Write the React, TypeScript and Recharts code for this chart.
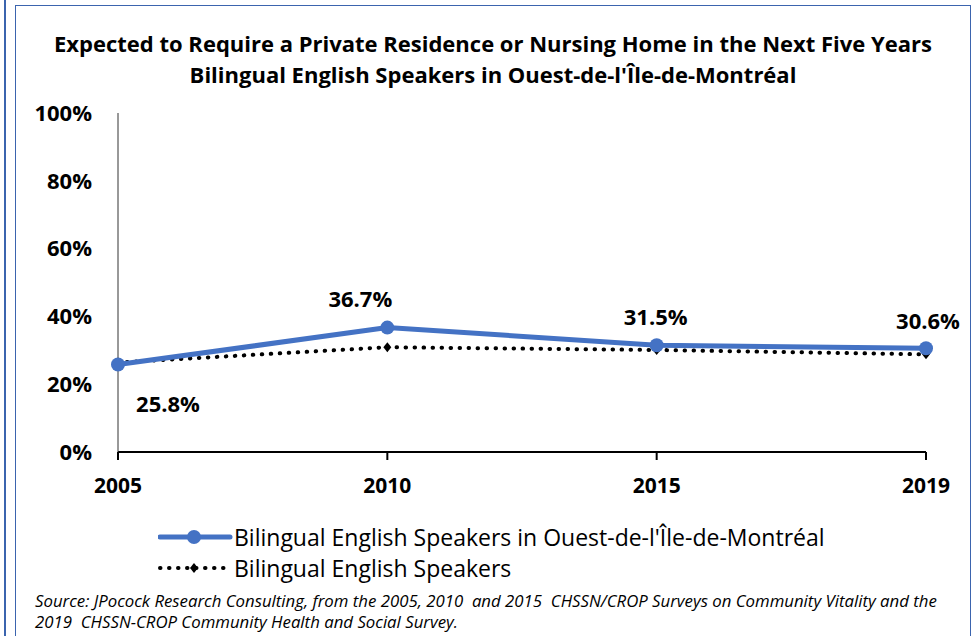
import React from 'react';
import { LineChart, Line, XAxis, YAxis, LabelList } from 'recharts';

const years = ['2005', '2010', '2015', '2019'];
const ouestValues = [25.8, 36.7, 31.5, 30.6];
const bilingualValues = [26.4, 30.9, 30.1, 28.8];
const yTicks = [0, 20, 40, 60, 80, 100];

const titleLines = [
  'Expected to Require a Private Residence or Nursing Home in the Next Five Years',
  "Bilingual English Speakers in Ouest-de-l'Île-de-Montréal",
];
const seriesNames = ["Bilingual English Speakers in Ouest-de-l'Île-de-Montréal", 'Bilingual English Speakers'];
const sourceLines = [
  'Source: JPocock Research Consulting, from the 2005, 2010  and 2015  CHSSN/CROP Surveys on Community Vitality and the',
  '2019  CHSSN-CROP Community Health and Social Survey.',
];

const data = years.map((year, i) => ({
  year,
  ouest: ouestValues[i],
  bilingual: bilingualValues[i],
}));

const BLUE = '#4472C4';
const FONT = '"Open Sans", "Noto Sans", sans-serif';

// label offsets relative to each point (Excel had them placed by hand)
const labelOffsets = [
  [50, 38],
  [-27, -30],
  [-1, -29],
  [2, -28],
];

const DataLabel = (props: any) => {
  const { x, y, value, index } = props;
  const [dx, dy] = labelOffsets[index] || [0, -28];
  return (
    <text
      x={x + dx}
      y={y + dy}
      textAnchor="middle"
      dominantBaseline="central"
      fontFamily={FONT}
      fontWeight={700}
      fontSize={22}
      fill="#000"
    >
      {value.toFixed(1)}%
    </text>
  );
};

const Diamond = (props: any) => {
  const { cx, cy } = props;
  if (cx == null || cy == null) return null;
  return <path d={`M${cx} ${cy - 5} L${cx + 4} ${cy} L${cx} ${cy + 5} L${cx - 4} ${cy} Z`} fill="#000" />;
};

const ChartLegend = () => (
  <svg width={760} height={62} style={{ position: 'absolute', left: 158, top: 521 }}>
    <line x1={2} y1={16} x2={72} y2={16} stroke={BLUE} strokeWidth={5} strokeLinecap="round" />
    <circle cx={36} cy={16} r={7} fill={BLUE} />
    <text x={76} y={16} dominantBaseline="central" fontFamily={FONT} fontSize={23} fill="#000">
      {seriesNames[0]}
    </text>
    <line
      x1={2}
      y1={47}
      x2={72}
      y2={47}
      stroke="#000"
      strokeWidth={4}
      strokeDasharray="0.5 8.5"
      strokeLinecap="round"
    />
    <path d="M36 42 L40 47 L36 52 L32 47 Z" fill="#000" />
    <text x={76} y={47} dominantBaseline="central" fontFamily={FONT} fontSize={23} fill="#000">
      {seriesNames[1]}
    </text>
  </svg>
);

export default function App() {
  return (
    <div
      style={{
        position: 'absolute',
        left: 0,
        top: 0,
        width: 977,
        height: 636,
        background: '#fff',
        overflow: 'hidden',
        fontFamily: FONT,
      }}
    >
      {/* neighbouring frame edge and chart frame */}
      <div style={{ position: 'absolute', left: 4, top: 0, width: 2, height: 636, background: '#3B64AE' }} />
      <div
        style={{
          position: 'absolute',
          left: 15,
          top: 5,
          width: 954,
          height: 660,
          border: '1.5px solid #3B64AE',
        }}
      />

      <div style={{ position: 'absolute', left: 15, top: 28, width: 956, textAlign: 'center' }}>
        {titleLines.map((t) => (
          <div key={t} style={{ fontWeight: 700, fontSize: 22, lineHeight: '31px', color: '#000', whiteSpace: 'nowrap' }}>
            {t}
          </div>
        ))}
      </div>

      <div style={{ position: 'absolute', left: 0, top: 0 }}>
        <LineChart width={977} height={636} data={data} margin={{ top: 113, right: 51, bottom: 154, left: 58 }}>
          <XAxis
            dataKey="year"
            height={30}
            axisLine={{ stroke: '#000', strokeWidth: 2 }}
            tickLine={{ stroke: '#000', strokeWidth: 2 }}
            tickSize={8}
            tickMargin={18}
            interval={0}
            tick={{ fontFamily: FONT, fontWeight: 700, fontSize: 21, fill: '#000' }}
          />
          <YAxis
            width={60}
            domain={[0, 100]}
            ticks={yTicks}
            axisLine={{ stroke: '#333', strokeWidth: 1 }}
            tickLine={false}
            tickSize={0}
            tickMargin={26}
            tickFormatter={(v: number) => `${v}%`}
            tick={{ fontFamily: FONT, fontWeight: 700, fontSize: 22, fill: '#000' }}
          />
          <Line
            type="linear"
            dataKey="bilingual"
            stroke="#000"
            strokeWidth={4}
            strokeDasharray="0.5 8.5"
            strokeLinecap="round"
            dot={<Diamond />}
            activeDot={false}
            isAnimationActive={false}
          />
          <Line
            type="linear"
            dataKey="ouest"
            stroke={BLUE}
            strokeWidth={5}
            dot={{ r: 7, fill: BLUE, stroke: BLUE, strokeWidth: 0 }}
            activeDot={false}
            isAnimationActive={false}
          >
            <LabelList dataKey="ouest" content={<DataLabel />} />
          </Line>
        </LineChart>
      </div>

      <ChartLegend />

      <div
        style={{
          position: 'absolute',
          left: 35,
          top: 590,
          fontStyle: 'italic',
          fontSize: 16.8,
          lineHeight: '21px',
          color: '#000',
          whiteSpace: 'pre',
        }}
      >
        {sourceLines.map((t) => (
          <div key={t}>{t}</div>
        ))}
      </div>
    </div>
  );
}
